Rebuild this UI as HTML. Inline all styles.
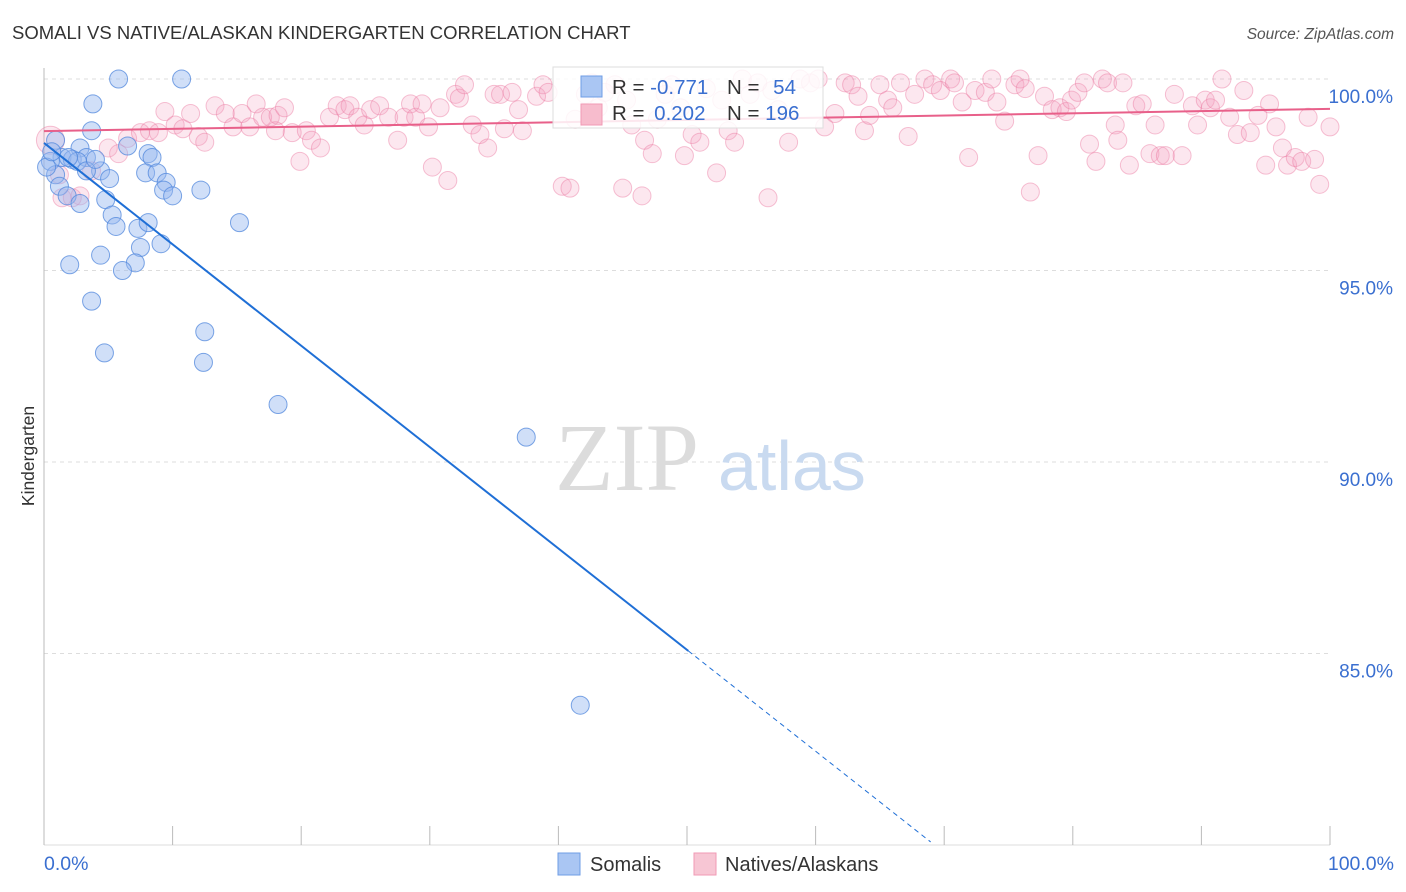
<!DOCTYPE html>
<html><head><meta charset="utf-8"><style>
body{margin:0;background:#fff;font-family:"Liberation Sans",sans-serif;}
svg{display:block}
</style></head><body>
<svg width="1406" height="892" xmlns="http://www.w3.org/2000/svg">
<text x="12" y="39" font-size="18.5" fill="#333">SOMALI VS NATIVE/ALASKAN KINDERGARTEN CORRELATION CHART</text>
<text x="1394" y="39" font-size="15.5" fill="#555" font-style="italic" text-anchor="end">Source: ZipAtlas.com</text>
<g id="grid"></g>
<text x="555" y="490" font-size="96" fill="#dcdcdc" font-family="Liberation Serif,serif">ZIP</text>
<text x="718" y="490" font-size="70" fill="#c9daf0">atlas</text>
<g id="pts"></g>
<g id="lines"></g>
<g>
<rect x="553" y="67" width="270" height="61" fill="#fff" fill-opacity="0.85" stroke="#ddd"/>
<rect x="581" y="76" width="21" height="21" fill="#aac6f3" stroke="#6f9de6"/>
<rect x="581" y="104" width="21" height="21" fill="#f7bccd" stroke="#f09ab5"/>
<text x="612" y="94" font-size="20.5" fill="#333">R = <tspan fill="#3a6fd0">-0.771</tspan></text>
<text x="727" y="94" font-size="20.5" fill="#333">N = <tspan fill="#3a6fd0" dx="8">54</tspan></text>
<text x="612" y="120" font-size="20.5" fill="#333">R = <tspan fill="#3a6fd0" dx="4">0.202</tspan></text>
<text x="727" y="120" font-size="20.5" fill="#333">N = <tspan fill="#3a6fd0">196</tspan></text>
</g>
<text x="34" y="456" font-size="17.5" fill="#333" transform="rotate(-90 34 456)" text-anchor="middle">Kindergarten</text>
<text x="44" y="870" font-size="19.5" fill="#3a6fd0">0.0%</text>
<text x="1394" y="870" font-size="19.5" fill="#3a6fd0" text-anchor="end">100.0%</text>
<rect x="558" y="853" width="22" height="22" fill="#aac6f3" stroke="#6f9de6"/>
<text x="590" y="871" font-size="20" fill="#333">Somalis</text>
<rect x="694" y="853" width="22" height="22" fill="#f7c6d4" stroke="#f09ab5"/>
<text x="725" y="871" font-size="20" fill="#333">Natives/Alaskans</text>
</svg>
<script>
const yTicks=[100,95,90,85];
const yTickLabels=["100.0%","95.0%","90.0%","85.0%"];
const xTicks=[0,10,20,30,40,50,60,70,80,90,100];
const blueX=[5.8,10.7,3.8,3.7,0.9,6.5,2.8,8.1,8.4,1.4,2.2,3.3,0.5,4.4,7.9,8.8,0.9,5.1,9.5,1.2,9.3,10.0,12.2,1.8,2.8,4.8,5.3,5.6,7.3,8.1,15.2,7.5,9.1,4.4,7.1,6.1,2.0,3.7,12.5,4.7,12.4,18.2,37.5,41.7,0.2,2.6,1.9,0.6,3.3,4.0];
const blueY=[100.0,100.0,99.35,98.65,98.4,98.25,98.2,98.05,97.95,97.95,97.9,97.95,97.85,97.6,97.55,97.55,97.5,97.4,97.3,97.2,97.1,96.95,97.1,96.95,96.75,96.85,96.45,96.15,96.1,96.25,96.25,95.6,95.7,95.4,95.2,95.0,95.15,94.2,93.4,92.85,92.6,91.5,90.65,83.65,97.7,97.85,97.95,98.1,97.6,97.9];
const pinkX=[0.5,1.4,2.2,2.8,1.2,3.7,5.0,5.8,6.5,7.5,8.2,8.9,9.4,10.2,10.8,11.4,12.0,12.5,13.3,14.1,14.7,15.4,16.0,16.5,17.0,17.6,18.2,18.7,18.0,19.3,19.9,20.4,20.8,21.5,22.2,22.8,23.4,23.8,24.4,24.9,25.4,26.1,26.8,27.5,28.0,28.5,28.9,29.4,29.9,30.2,30.8,31.4,32.0,32.3,32.7,33.3,33.9,34.5,35.0,35.5,35.8,36.4,36.9,37.2,38.3,38.8,39.2,40.3,40.9,41.3,42.1,42.6,43.1,43.6,44.4,45.0,45.3,45.7,46.5,46.7,47.3,47.7,48.3,48.8,49.5,49.8,50.4,51.0,51.5,52.3,52.7,53.2,53.7,54.3,54.9,55.5,56.3,56.6,57.1,57.9,58.8,59.6,60.2,60.7,61.5,62.3,62.8,63.3,63.8,64.2,65.0,65.6,66.0,66.6,67.2,67.7,68.5,69.1,69.7,70.5,70.8,71.4,71.9,72.4,73.2,73.7,74.1,74.7,75.5,75.9,76.3,76.7,77.3,77.8,78.4,79.0,79.5,79.9,80.4,80.9,81.3,81.8,82.3,82.7,83.3,83.5,83.9,84.4,84.9,85.4,86.0,86.4,86.8,87.2,87.9,88.5,89.3,89.7,90.3,90.7,91.1,91.6,92.2,92.8,93.3,93.8,94.4,95.0,95.3,95.8,96.3,96.7,97.3,97.8,98.3,98.8,99.2,100.0];
const pinkY=[98.4,96.9,96.9,96.95,97.5,97.6,98.2,98.05,98.45,98.6,98.65,98.6,99.15,98.8,98.7,99.1,98.5,98.35,99.3,99.1,98.75,99.1,98.75,99.35,99.0,99.0,99.05,99.25,98.65,98.6,97.85,98.65,98.4,98.2,99.0,99.3,99.2,99.3,99.0,98.8,99.2,99.3,99.0,98.4,99.0,99.35,99.0,99.35,98.75,97.7,99.25,97.35,99.6,99.5,99.85,98.8,98.55,98.2,99.6,99.6,98.7,99.65,99.2,98.65,99.55,99.85,99.65,97.2,97.15,98.95,99.6,99.9,99.25,99.65,99.85,97.15,99.45,98.8,96.95,98.4,98.05,98.95,99.6,99.85,99.25,98.0,98.55,98.35,99.75,97.55,99.45,98.65,98.35,100.0,99.6,99.9,96.9,99.7,99.2,98.35,100.0,99.9,100.0,98.75,99.1,99.9,99.85,99.55,98.65,99.05,99.85,99.45,99.25,99.9,98.5,99.6,100.0,99.85,99.7,100.0,99.9,99.4,97.95,99.7,99.65,100.0,99.4,98.9,99.85,100.0,99.75,97.05,98.0,99.55,99.2,99.25,99.15,99.45,99.65,99.9,98.3,97.85,100.0,99.9,98.8,98.4,99.9,97.75,99.3,99.35,98.05,98.8,98.0,98.0,99.6,98.0,99.3,98.8,99.45,99.25,99.45,100.0,99.0,98.55,99.7,98.6,99.05,97.75,99.35,98.75,98.2,97.75,97.95,97.85,99.0,97.9,97.25,98.75];
const blueLine=[98.33,-0.2647];
const pinkLine=[98.64,0.0058];
const ns="http://www.w3.org/2000/svg";
const X=v=>44+v*12.86, Y=v=>79+(100-v)*38.3;
function mk(t,a,p){const e=document.createElementNS(ns,t);for(const k in a)e.setAttribute(k,a[k]);p.appendChild(e);return e;}
const grid=document.getElementById('grid');
yTicks.forEach((t,i)=>{
 const l=mk('line',{x1:44,x2:1330,y1:Y(t),y2:Y(t),stroke:'#ddd','stroke-dasharray':'4,4'},grid);
 
 
 const tx=mk('text',{x:1393,y:Y(t)+24,'font-size':19,fill:'#3a6fd0','text-anchor':'end'},grid);
 tx.textContent=yTickLabels[i];
 
 
});
const ax=mk('line',{x1:44,x2:44,y1:68,y2:845,stroke:'#bbb'},grid);


const bx=mk('line',{x1:44,x2:1330,y1:845,y2:845,stroke:'#ddd'},grid);


xTicks.forEach(t=>{
 const l=mk('line',{x1:X(t),x2:X(t),y1:826,y2:845,stroke:'#bbb'},grid);
 
 
});
const pts=document.getElementById('pts');
pinkX.forEach((x,i)=>{
 const c=mk('circle',{cx:X(x),cy:Y(pinkY[i]),r:i==0?14:9,fill:'rgba(245,160,190,0.25)',stroke:'rgba(236,120,160,0.45)'},pts);
 
 
});
blueX.forEach((x,i)=>{
 const c=mk('circle',{cx:X(x),cy:Y(blueY[i]),r:9,fill:'rgba(150,185,240,0.45)',stroke:'rgba(80,135,220,0.75)'},pts);
 
 
});
const ln=document.getElementById('lines');
const bf=x=>blueLine[0]+blueLine[1]*x;
const b1=mk('line',{x1:X(0),y1:Y(bf(0)),x2:X(50.1),y2:Y(bf(50.1)),stroke:'#1f6fd6','stroke-width':2},ln);


const xe=(80.08-blueLine[0])/blueLine[1];
const b2=mk('line',{x1:X(50.1),y1:Y(bf(50.1)),x2:X(xe),y2:Y(bf(xe)),stroke:'#1f6fd6','stroke-width':1,'stroke-dasharray':'5,4'},ln);


const pf=x=>pinkLine[0]+pinkLine[1]*x;
const p1=mk('line',{x1:X(0),y1:Y(pf(0)),x2:X(100),y2:Y(pf(100)),stroke:'#e8608a','stroke-width':2},ln);


</script>
</body></html>
